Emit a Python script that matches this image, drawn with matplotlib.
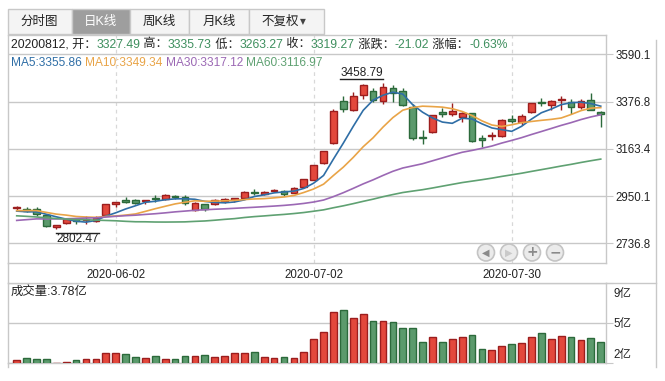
import numpy as np
import pandas as pd
import matplotlib
matplotlib.use("Agg")
import matplotlib.pyplot as plt
from matplotlib.patches import Rectangle, Ellipse
from matplotlib.lines import Line2D
from matplotlib.transforms import blended_transform_factory

# ---------------- data ----------------
dates = ['2020-05-19','2020-05-20','2020-05-21','2020-05-22','2020-05-25','2020-05-26','2020-05-27','2020-05-28','2020-05-29',
         '2020-06-01','2020-06-02','2020-06-03','2020-06-04','2020-06-05','2020-06-08','2020-06-09','2020-06-10','2020-06-11',
         '2020-06-12','2020-06-15','2020-06-16','2020-06-17','2020-06-18','2020-06-19','2020-06-22','2020-06-23','2020-06-24',
         '2020-06-29','2020-06-30','2020-07-01','2020-07-02','2020-07-03','2020-07-06','2020-07-07','2020-07-08','2020-07-09',
         '2020-07-10','2020-07-13','2020-07-14','2020-07-15','2020-07-16','2020-07-17','2020-07-20','2020-07-21','2020-07-22',
         '2020-07-23','2020-07-24','2020-07-27','2020-07-28','2020-07-29','2020-07-30','2020-07-31','2020-08-03','2020-08-04',
         '2020-08-05','2020-08-06','2020-08-07','2020-08-10','2020-08-11','2020-08-12']

opens = [2895, 2893, 2893, 2863, 2812, 2829, 2847, 2840, 2838, 2863,
         2915, 2934, 2932, 2926, 2940, 2938, 2951, 2944, 2888, 2912,
         2912, 2930, 2934, 2940, 2969, 2960, 2974, 2975, 2966, 2990,
         3023, 3101, 3190, 3380, 3340, 3408, 3425, 3380, 3437, 3425,
         3352, 3216, 3240, 3331, 3320, 3306, 3323, 3210, 3222, 3222,
         3298, 3283, 3329, 3374, 3362, 3382, 3376, 3350, 3385, 3327.49]
highs = [2905, 2899, 2899, 2866, 2820, 2848, 2851, 2859, 2858, 2916,
         2925, 2945, 2935, 2933, 2955, 2958, 2955, 2956, 2922, 2916,
         2937, 2941, 2940, 2971, 2980, 2972, 2982, 2978, 2992, 3027,
         3091, 3153, 3344, 3400, 3420, 3456.97, 3440, 3458.79, 3452, 3438,
         3366, 3250, 3316, 3346, 3372, 3330, 3327, 3227, 3240, 3296,
         3314, 3320, 3370, 3391, 3383, 3401, 3390, 3390, 3414, 3335.73]
lows = [2886, 2879, 2862, 2810, 2802.47, 2825, 2822, 2822, 2831, 2860,
        2900, 2918, 2912, 2912, 2925, 2932, 2935, 2908, 2883, 2884,
        2908, 2920, 2924, 2938, 2956, 2955, 2971, 2950, 2963, 2986,
        3021, 3096, 3186, 3331, 3336, 3390, 3374, 3367, 3375, 3355,
        3205, 3184, 3235, 3306, 3312, 3284, 3192, 3172, 3202, 3216,
        3280, 3270, 3325, 3355, 3340, 3340, 3320, 3342, 3338, 3263.27]
closes = [2898.58, 2883.74, 2867.92, 2813.77, 2817.97, 2846.55, 2836.80, 2846.22, 2852.35,
          2915.43, 2921.40, 2923.37, 2919.25, 2930.80, 2937.77, 2956.11, 2943.75, 2920.90,
          2919.74, 2890.03, 2931.75, 2935.87, 2939.32, 2967.63, 2965.27, 2970.62, 2979.55,
          2961.52, 2984.67, 3025.98, 3090.57, 3152.81, 3332.88, 3345.34, 3403.44, 3450.59,
          3383.32, 3443.29, 3414.62, 3361.30, 3210.10, 3214.13, 3314.15, 3320.90, 3333.16,
          3325.11, 3196.77, 3205.23, 3227.96, 3294.55, 3286.82, 3310.01, 3367.97, 3371.69,
          3377.56, 3386.46, 3354.04, 3379.25, 3340.29, 3319.27]
# closes of the 59 sessions before the window (for the moving averages)
prior_closes = [3030.15, 3039.67, 3031.23, 3013.05, 2987.93, 2991.33, 2880.30,
                2970.93, 2992.90, 3011.67, 3071.68, 3034.51, 2943.29, 2996.76, 2968.52, 2923.49, 2887.43,
                2789.25, 2779.64, 2728.76, 2702.13, 2745.62, 2660.17, 2722.44, 2781.59, 2764.91, 2772.20,
                2747.21, 2750.30,
                2734.52, 2780.64, 2763.99, 2820.76, 2815.37, 2825.90, 2796.63, 2783.05, 2827.28, 2811.17,
                2819.94, 2838.49, 2852.55, 2827.01, 2843.98, 2838.50, 2808.53, 2815.49, 2810.02, 2822.44,
                2860.08,
                2878.14, 2871.52, 2895.34, 2894.80, 2891.56, 2898.05, 2870.34, 2868.46, 2875.42]
volumes = [2.25, 2.41, 2.33, 2.33, 2.05, 2.10, 2.25, 2.33, 2.33, 2.82,
           2.82, 2.74, 2.49, 2.41, 2.57, 2.33, 2.33, 2.57, 2.57, 2.66,
           2.49, 2.57, 2.82, 2.82, 2.93, 2.49, 2.41, 2.49, 2.41, 2.93,
           3.97, 4.54, 6.18, 6.37, 5.69, 6.04, 5.44, 5.44, 5.36, 4.87,
           4.87, 3.72, 4.18, 3.72, 3.97, 4.13, 4.30, 3.15, 3.07, 3.39,
           3.56, 3.64, 4.13, 4.46, 3.97, 4.21, 4.13, 3.89, 4.05, 3.78]  # 亿

price_ticks = [2736.8, 2950.1, 3163.4, 3376.8, 3590.1]
price_range = (2647.9, 3677.2)
vol_ticks = [2.0, 5.3, 8.6]
vol_tick_labels = ['2亿', '5亿', '9亿']
tick_dates = ['2020-06-02', '2020-07-02', '2020-07-30']
tabs = ['分时图', '日K线', '周K线', '月K线', '不复权']
ma_periods = [5, 10, 30, 60]

# ---------------- style ----------------
W, H = 665, 381
RED_F, RED_E = '#E3483C', '#9C1E1E'
GRN_F, GRN_E = '#5B9A6C', '#2C6A3B'
MA_COLORS = ['#2F6EA6', '#E9A447', '#9B68B4', '#5FA172']
VAL_GREEN = '#3E8F5E'
GRID = '#C8C8C8'
TXT = '#222222'
FAM = ['Liberation Sans', 'Noto Sans CJK SC', 'DejaVu Sans']
plt.rcParams['font.family'] = FAM

fig = plt.figure(figsize=(W / 100, H / 100), dpi=100)
fig.patch.set_facecolor('white')


def fx(x):
    return x / W


def fy(y):
    return 1 - y / H


# ---------------- axes ----------------
L, R = 7.5, 606
ax = fig.add_axes([fx(L), fy(263), fx(R) - fx(L), fy(35) - fy(263)])
axv = fig.add_axes([fx(L), fy(363.3), fx(R) - fx(L), fy(282.7) - fy(363.3)])

idx = np.arange(len(dates))
O = np.array(opens); Hh = np.array(highs); Lo = np.array(lows); C = np.array(closes)
up = C >= O
face = np.where(up, RED_F, GRN_F)
edge = np.where(up, RED_E, GRN_E)

# moving averages
allc = pd.Series(prior_closes + closes)
n_prior = len(prior_closes)
ma = {p: allc.rolling(p).mean().values[n_prior:] for p in ma_periods}

# candles
ax.vlines(idx, Lo, Hh, colors=edge, lw=1.0, zorder=2)
body_bottom = np.minimum(O, C)
body_h = np.maximum(np.abs(C - O), 3.0)
ax.bar(idx, body_h, bottom=body_bottom, width=0.68, color=face, edgecolor=edge, lw=1.0, zorder=3)

for p, col in zip(ma_periods, MA_COLORS):
    ax.plot(idx, ma[p], color=col, lw=1.2, zorder=4)

ax.set_xlim(-0.93, 59.53)
ax.set_ylim(*price_range)
ax.set_yticks(price_ticks)
ax.set_yticklabels([f'{v:.1f}' for v in price_ticks])
ax.yaxis.tick_right()
ax.tick_params(axis='y', length=5, color=GRID, labelsize=8.3, labelcolor=TXT, pad=2)
ax.grid(axis='y', color=GRID, lw=1.0, zorder=0)
xt = [dates.index(d) for d in tick_dates]
ax.set_xticks(xt)
ax.set_xticklabels(tick_dates)
ax.tick_params(axis='x', length=0, labelsize=8.3, labelcolor=TXT, pad=4)
for x in xt:
    ax.axvline(x, color='#D8D8D8', lw=0.9, ls=(0, (3, 3)), zorder=0)
for s in ax.spines.values():
    s.set_color(GRID)
    s.set_linewidth(1.0)

# volume
axv.bar(idx, volumes, width=0.68, color=face, edgecolor=edge, lw=1.0, zorder=3)
axv.set_xlim(-0.93, 59.53)
axv.set_ylim(vol_ticks[0], vol_ticks[-1])
axv.set_yticks(vol_ticks)
axv.set_yticklabels([])
axv.yaxis.tick_right()
axv.tick_params(axis='y', length=5, color=GRID)
trans_v = blended_transform_factory(axv.transAxes, axv.transData)
label_offsets = [(5.5, 'bottom', 1.5), (5.5, 'center', -1), (5.5, 'top', -4)]
for v, lab, (dx, va, dy) in zip(vol_ticks, vol_tick_labels, label_offsets):
    axv.annotate(lab, xy=(1, v), xycoords=trans_v, xytext=(dx, dy), textcoords='offset points',
                 ha='left', va=va, fontsize=8.3, color=TXT, annotation_clip=False)
axv.set_xticks([])
axv.grid(axis='y', color=GRID, lw=1.0, zorder=0)
for s in axv.spines.values():
    s.set_color(GRID)
    s.set_linewidth(1.0)

renderer = fig.canvas.get_renderer()


def seq_text(parts, x, y, size, **kw):
    cur = x
    for s, col in parts:
        t = fig.text(fx(cur), fy(y), s, color=col, fontsize=size, va='center', ha='left', **kw)
        cur += t.get_window_extent(renderer).width
    return cur


# info line
prev_close = C[-2]
chg = C[-1] - prev_close
pct = chg / prev_close * 100
parts = [(dates[-1].replace('-', '') + ', 开：', TXT), (f'{O[-1]:.2f}', VAL_GREEN),
         (' 高：', TXT), (f'{Hh[-1]:.2f}', VAL_GREEN),
         (' 低：', TXT), (f'{Lo[-1]:.2f}', VAL_GREEN),
         (' 收：', TXT), (f'{C[-1]:.2f}', VAL_GREEN),
         (' 涨跌：', TXT), (f'{chg:.2f}', VAL_GREEN),
         (' 涨幅：', TXT), (f'{pct:.2f}%', VAL_GREEN)]
seq_text(parts, 11, 44.5, 8.75)

# MA line
ma_parts = []
for p, col in zip(ma_periods, MA_COLORS):
    ma_parts.append((f'MA{p}:{ma[p][-1]:.2f} ', col))
seq_text(ma_parts, 11, 63, 8.6)

# volume label
fig.text(fx(11), fy(292), f'成交量:{volumes[-1]:.2f}亿', fontsize=8.9, color=TXT, va='center', ha='left')

# max / min annotations
imax = int(np.argmax(Hh)); imin = int(np.argmin(Lo))
tmax = ax.annotate(f'{Hh[imax]:.2f}', xy=(imax, Hh[imax]), xytext=(0, 3), textcoords='offset points',
                   ha='right', va='bottom', fontsize=8.5, color=TXT)
tmin = ax.annotate(f'{Lo[imin]:.2f}', xy=(imin, Lo[imin]), xytext=(0, -3), textcoords='offset points',
                   ha='left', va='top', fontsize=8.5, color=TXT)
fig.canvas.draw()
inv = fig.transFigure.inverted()
bb = tmax.get_window_extent(renderer)
(x0, y0), (x1, _) = inv.transform([(bb.x0, bb.y0), (bb.x1, bb.y0)])
fig.add_artist(Line2D([x0, x1], [y0, y0], color=TXT, lw=1.0))
bb = tmin.get_window_extent(renderer)
(x0, y1), (x1, _) = inv.transform([(bb.x0, bb.y1), (bb.x1, bb.y1)])
fig.add_artist(Line2D([x0, x1], [y1, y1], color=TXT, lw=1.0))

# tabs
tab_edges = [7.5, 71.7, 130, 189.3, 249.3, 324]
for i, name in enumerate(tabs):
    a, b = tab_edges[i], tab_edges[i + 1]
    sel = (i == 1)
    fig.add_artist(Rectangle((fx(a), fy(33.5)), fx(b) - fx(a), fy(9) - fy(33.5),
                             facecolor='#9E9E9E' if sel else '#F4F4F4', edgecolor='#C8C8C8', lw=1.0,
                             transform=fig.transFigure))
    cx = (a + b) / 2 - (6 if i == len(tabs) - 1 else 0)
    fig.text(fx(cx), fy(21.5), name, fontsize=9, ha='center', va='center',
             color='white' if sel else TXT)
# dropdown arrow of the last tab
fig.text(fx(303), fy(21.5), '▼', fontsize=5.5, ha='center', va='center', color='#444444', family='DejaVu Sans')

# frame lines outside axes
fig.add_artist(Line2D([fx(L), fx(L)], [fy(263), fy(282.7)], color=GRID, lw=1.0))
fig.add_artist(Line2D([fx(L), fx(L)], [fy(363.3), fy(367)], color=GRID, lw=1.0))
fig.add_artist(Line2D([fx(656), fx(656)], [fy(40), fy(367)], color=GRID, lw=1.0))
fig.add_artist(Line2D([fx(R), fx(656)], [fy(282.7), fy(282.7)], color=GRID, lw=1.0))

# navigation buttons
btn_x = [486, 509, 532, 555]
btn_sym = ['◀', '▶', '+', '−']
btn_col = ['#8A8A8A', '#C9C9C9', '#8A8A8A', '#8A8A8A']
for bx, sym, col in zip(btn_x, btn_sym, btn_col):
    fig.add_artist(Ellipse((fx(bx), fy(252.5)), 17 / W, 17 / H, facecolor='#EBEBEB',
                           edgecolor='#C4C4C4', lw=1.2, transform=fig.transFigure))
    fig.text(fx(bx), fy(252.5), sym, fontsize=7 if sym in '◀▶' else 10, ha='center', va='center',
             color=col, family='DejaVu Sans', fontweight='bold')

fig.savefig('out.png', dpi=100, facecolor='white')
